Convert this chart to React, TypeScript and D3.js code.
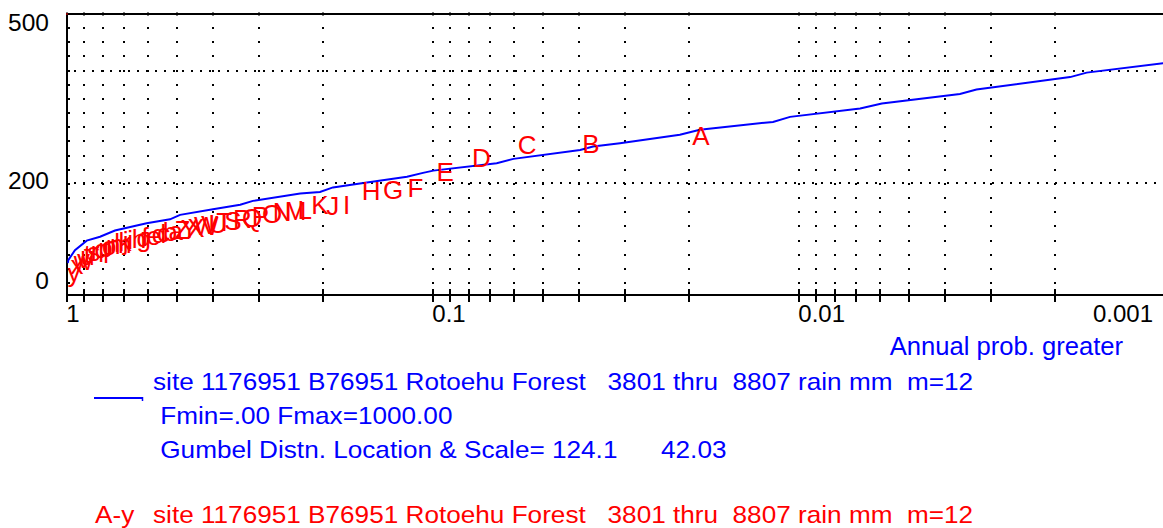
import React from 'react';
import * as d3 from 'd3';

const W = 1163;
const H = 528;
const FONT = 'Liberation Sans, Arial, sans-serif';

// Axis ticks
const xTickValues = [
  1, 0.9, 0.8, 0.7, 0.6, 0.5, 0.4, 0.3, 0.2, 0.1,
  0.09, 0.08, 0.07, 0.06, 0.05, 0.04, 0.03, 0.02, 0.01,
  0.009, 0.008, 0.007, 0.006, 0.005, 0.004, 0.003, 0.002,
];
const xLabelValues = [1, 0.1, 0.01, 0.001];
const xLabelTexts = ['1', '0.1', '0.01', '0.001'];
const yLabelValues = [0, 200, 500];
const yLabelTexts = ['0', '200', '500'];
const yGridValues = [200, 400];

// Fitted curve (blue)
const fitProb = [
  0.997, 0.994, 0.953, 0.885, 0.814, 0.741, 0.607, 0.524, 0.492, 0.4, 0.337, 0.311,
  0.231, 0.204, 0.188, 0.1586, 0.118, 0.1067, 0.1, 0.0671, 0.0604, 0.0397, 0.0366,
  0.0309, 0.0212, 0.0187, 0.0118, 0.0106, 0.00682, 0.00595, 0.00364, 0.00328,
  0.00182, 0.00164, 0.00101, 0.0009,
];
const fitRain = [
  58, 63, 81, 98, 105, 116, 129, 136, 144, 154, 162, 169,
  182, 185, 193, 200, 212, 219, 223, 236, 244, 260, 266,
  272, 287, 296, 310, 319, 334, 343, 360, 368,
  390, 398, 415, 418,
];

// Ranked annual maxima, labelled A..y
const pointLabels = [
  'A', 'B', 'C', 'D', 'E', 'F', 'G', 'H', 'I', 'J', 'K', 'L', 'M', 'N', 'O', 'P', 'Q',
  'R', 'S', 'T', 'U', 'V', 'W', 'X', 'Y', 'Z', 'a', 'b', 'c', 'd', 'e', 'f', 'g', 'h',
  'i', 'j', 'k', 'l', 'm', 'n', 'o', 'p', 'q', 'r', 's', 't', 'u', 'v', 'w', 'x', 'y',
];
const rainValues = [
  285, 271, 268, 246, 221, 192, 188, 186, 161, 160, 161, 153, 151, 150, 146, 142, 138,
  137, 133, 131, 128, 126, 124, 121, 119, 117, 115, 113, 111, 109, 107, 105, 103, 101,
  99, 97, 95, 93, 92, 90, 88, 85, 83, 79, 77, 74, 70, 66, 61, 54, 40,
];

const legendBlueLines = [
  'site 1176951 B76951 Rotoehu Forest   3801 thru  8807 rain mm  m=12',
  ' Fmin=.00 Fmax=1000.00',
  ' Gumbel Distn. Location & Scale= 124.1      42.03',
];
const legendRedKey = 'A-y';
const legendRedLine = 'site 1176951 B76951 Rotoehu Forest   3801 thru  8807 rain mm  m=12';
const xAxisTitle = 'Annual prob. greater';

export default function App() {
  const left = 67.3;
  const top = 14;
  const bottom = 295.5;
  const x = d3.scaleLog().domain([1, 0.001]).range([left, 1165.3]);
  const y = d3.scaleLinear().domain([0, 500]).range([bottom, 15.5]);

  const line = d3
    .line<number>()
    .x((_, i) => x(fitProb[i]))
    .y((d) => y(d));

  const plotProb = rainValues.map((_, i) => (i + 1) / (rainValues.length + 1));

  // dotted grid: dot positions along each grid line
  const vDots = d3.range(19).map((k) => Math.round(27 + k * 14.17));
  const hDots = d3.range(74, 1156, 9);

  return (
    <svg
      width={W}
      height={H}
      style={{ position: 'absolute', left: 0, top: 0, display: 'block', background: '#fff' }}
      fontFamily={FONT}
    >
      <defs>
        <clipPath id="plotclip">
          <rect x={left} y={top} width={W - left} height={bottom - top + 1} />
        </clipPath>
      </defs>
      <rect x={0} y={0} width={W} height={H} fill="#fff" />

      {/* vertical dotted grid */}
      {xTickValues.map((v) => {
        const gx = Math.round(x(v)) + (v === 1 ? 2 : 0);
        return (
          <g key={'vg' + v}>
            {vDots.map((dy) => (
              <rect key={dy} x={gx - 1} y={dy} width={2} height={2} fill="#000" />
            ))}
          </g>
        );
      })}
      {/* horizontal dotted grid */}
      {yGridValues.map((v) => {
        const gy = Math.round(y(v));
        return (
          <g key={'hg' + v}>
            {hDots.map((dx) => (
              <rect key={dx} x={dx} y={gy - 1} width={2} height={2} fill="#000" />
            ))}
          </g>
        );
      })}

      {/* axes frame */}
      <line x1={left} x2={W} y1={top} y2={top} stroke="#000" strokeWidth={2} shapeRendering="crispEdges" />
      <line x1={67} x2={67} y1={top} y2={bottom} stroke="#000" strokeWidth={2} shapeRendering="crispEdges" />
      <line x1={66} x2={W} y1={295} y2={295} stroke="#000" strokeWidth={2} shapeRendering="crispEdges" />
      <rect x={66} y={13} width={2} height={2} fill="#ff0000" />

      {/* x ticks */}
      {xTickValues.map((v) => {
        const tx = Math.round(x(v));
        return (
          <g key={'xt' + v}>
            <line x1={tx} x2={tx} y1={289} y2={301.5} stroke="#000" strokeWidth={2} shapeRendering="crispEdges" />
            <line x1={tx} x2={tx} y1={top - 2} y2={top + 2} stroke="#000" strokeWidth={1} />
          </g>
        );
      })}
      {/* x labels */}
      {xLabelValues.map((v, i) => {
        const px = x(v);
        const clamped = px + 40 > W;
        return (
          <text
            key={'xl' + v}
            x={clamped ? 1153 : px - 1}
            y={322}
            fontSize={24}
            textAnchor={clamped ? 'end' : 'start'}
            fill="#000"
          >
            {xLabelTexts[i]}
          </text>
        );
      })}
      {/* y labels */}
      {yLabelValues.map((v, i) => {
        const base = Math.max(31, Math.min(288.5, y(v) + 5));
        return (
          <text key={'yl' + v} x={49} y={base} fontSize={24.5} textAnchor="end" fill="#000">
            {yLabelTexts[i]}
          </text>
        );
      })}

      <g clipPath="url(#plotclip)">
        <path d={line(fitRain) || ''} fill="none" stroke="#0000ff" strokeWidth={2} />
        {rainValues.map((v, i) => (
          <text
            key={'pt' + i}
            x={x(plotProb[i]) - 3}
            y={y(v) + 9}
            fontSize={26}
            fill="#ff0000"
          >
            {pointLabels[i]}
          </text>
        ))}
      </g>

      {/* x axis title */}
      <text x={1123} y={355} fontSize={25.6} textAnchor="end" fill="#0000ff">
        {xAxisTitle}
      </text>

      {/* legend */}
      <line x1={94} x2={143} y1={398} y2={398} stroke="#0000ff" strokeWidth={2} />
      <line x1={142.5} x2={142.5} y1={397} y2={401} stroke="#0000ff" strokeWidth={1.5} />
      {legendBlueLines.map((t, i) => (
        <g key={'lb' + i} transform={`translate(153,${390 + i * 33.8}) scale(1.09,1)`}>
          <text x={0} y={0} fontSize={24} fill="#0000ff" style={{ whiteSpace: 'pre' }}>
            {t}
          </text>
        </g>
      ))}
      <g transform="translate(95,522.7) scale(1.09,1)">
        <text x={0} y={0} fontSize={24} fill="#ff0000" style={{ whiteSpace: 'pre' }}>
          {legendRedKey}
        </text>
      </g>
      <g transform="translate(153,522.7) scale(1.09,1)">
        <text x={0} y={0} fontSize={24} fill="#ff0000" style={{ whiteSpace: 'pre' }}>
          {legendRedLine}
        </text>
      </g>
    </svg>
  );
}
